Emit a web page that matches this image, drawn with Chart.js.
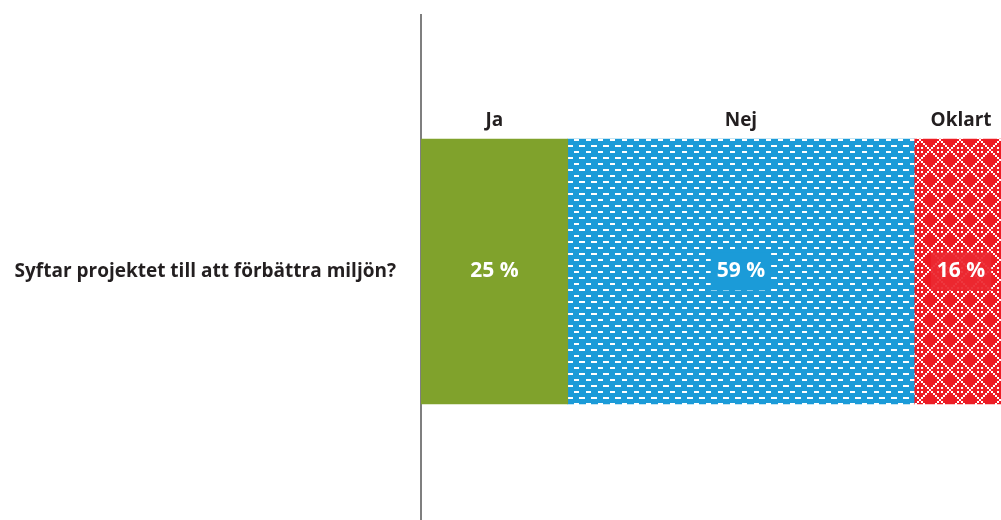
<!DOCTYPE html>
<html><head><meta charset="utf-8">
<script src="https://cdn.jsdelivr.net/npm/chart.js@4/dist/chart.umd.min.js"></script>
<style>html,body{margin:0;padding:0;background:#fff;overflow:hidden;width:1001px;height:520px}</style>
</head><body>
<canvas id="c" width="1010" height="530"></canvas>
<script>
const categories = ['Syftar projektet till att förbättra miljön?'];
const seriesNames = ['Ja', 'Nej', 'Oklart'];
const jaValues = [25];
const nejValues = [59];
const oklartValues = [16];
const valueLabels = ['25 %', '59 %', '16 %'];

const FONT = '"Open Sans", Lato, sans-serif';
const TXT = '#231f20';

function bluePattern(){
  const t=document.createElement('canvas'); t.width=12; t.height=12;
  const g=t.getContext('2d');
  g.fillStyle='#1b9bd8'; g.fillRect(0,0,12,12);
  g.fillStyle='#ffffff';
  g.fillRect(3,1,6,2);
  g.fillRect(10,7,2,2); g.fillRect(0,7,3,2);
  return g.createPattern(t,'repeat');
}
function redPattern(){
  const P=20;
  const t=document.createElement('canvas'); t.width=P; t.height=P;
  const g=t.getContext('2d');
  g.fillStyle='#ed1c24'; g.fillRect(0,0,P,P);
  g.fillStyle='#ffffff';
  for(let i=0;i<P/2;i++){
    g.fillRect(2*i-1,2*i-1,2,2);
    g.fillRect(P-2*i-1,2*i-1,2,2);
  }
  g.fillRect(P-1,P-1,2,2); g.fillRect(-1,P-1,2,2);
  const oc=[[0,P/2],[P,P/2]];
  oc.forEach(([x,y])=>{
    g.fillRect(x-3,y-3,2,2); g.fillRect(x+1,y-3,2,2);
    g.fillRect(x-3,y+1,2,2); g.fillRect(x+1,y+1,2,2);
  });
  return g.createPattern(t,'repeat');
}
const fills=['#80a22c', bluePattern(), redPattern()];
const boxColors=[null,'#1b9bd8','rgba(236,40,48,0.93)'];

const labelPlugin={
  id:'labels',
  afterDatasetsDraw(chart){
    const ctx=chart.ctx;
    chart.data.datasets.forEach((ds,i)=>{
      const bar=chart.getDatasetMeta(i).data[0];
      const cx=(bar.x+bar.base)/2;
      const top=bar.y-bar.height/2;
      ctx.save();
      ctx.textAlign='center'; ctx.textBaseline='middle';
      ctx.font='bold 19px '+FONT;
      ctx.fillStyle=TXT;
      ctx.fillText(ds.label,cx,top-18);
      ctx.font='bold 21px '+FONT;
      const txt=valueLabels[i];
      const w=ctx.measureText(txt).width;
      if(boxColors[i]){
        ctx.fillStyle=boxColors[i];
        ctx.fillRect(cx-w/2-6,bar.y-19,w+12,38);
      }
      ctx.fillStyle='#ffffff';
      ctx.fillText(txt,cx,bar.y);
      ctx.restore();
    });
  }
};

new Chart(document.getElementById('c'),{
  type:'bar',
  data:{
    labels:categories,
    datasets:[
      {label:seriesNames[0],data:jaValues,backgroundColor:fills[0]},
      {label:seriesNames[1],data:nejValues,backgroundColor:fills[1]},
      {label:seriesNames[2],data:oklartValues,backgroundColor:fills[2]}
    ]
  },
  options:{
    indexAxis:'y',
    responsive:false,
    animation:false,
    devicePixelRatio:1,
    layout:{padding:{top:15,bottom:2,right:2,left:0}},
    datasets:{bar:{barThickness:265,borderWidth:0}},
    plugins:{legend:{display:false},tooltip:{enabled:false}},
    scales:{
      x:{stacked:true,min:0,max:100,display:false},
      y:{stacked:true,
        grid:{display:false,drawTicks:false},
        border:{display:true,color:'#7f7f7f',width:2},
        ticks:{padding:25,color:TXT,font:{family:FONT,size:19,weight:'bold'}},
        afterFit(s){s.width=421;s.paddingTop=0;s.paddingBottom=0;}
      }
    }
  },
  plugins:[labelPlugin]
});
</script>
</body></html>
